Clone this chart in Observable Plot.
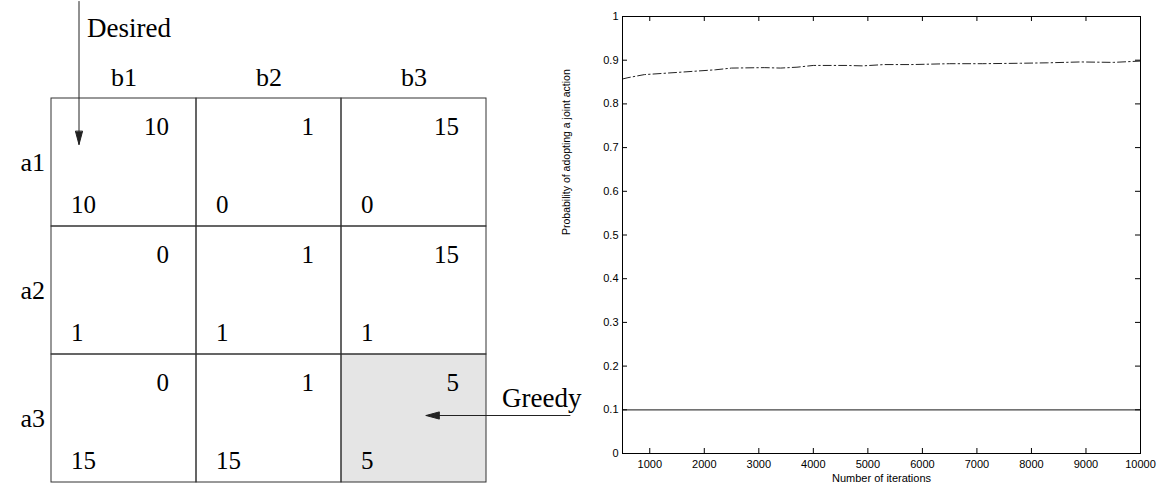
<!DOCTYPE html>
<html>
<head>
<meta charset="utf-8">
<script src="https://cdn.jsdelivr.net/npm/d3@7"></script>
<script src="https://cdn.jsdelivr.net/npm/@observablehq/plot@0.6"></script>
<style>
  body { margin: 0; background: #fff; }
  #wrap { position: relative; width: 1162px; height: 483px; overflow: hidden; background: #fff; }
  #wrap > div { position: absolute; top: 0; }
  #wrap svg { background: transparent !important; max-width: none !important; display: block; }
</style>
</head>
<body>
<div id="wrap"><div id="left" style="left:0px"></div><div id="right" style="left:555px"></div></div>
<script>
// ---------- Payoff matrix data ----------
const rowActions = ["a1", "a2", "a3"];
const colActions = ["b1", "b2", "b3"];
// payoff of the row player (shown bottom-left of each cell)
const rowPayoff = [
  [10, 0, 0],
  [1, 1, 1],
  [15, 15, 5]
];
// payoff of the column player (shown top-right of each cell)
const colPayoff = [
  [10, 1, 15],
  [0, 1, 15],
  [0, 1, 5]
];
const desiredCell = {row: "a1", col: "b1", label: "Desired"};
const greedyCell = {row: "a3", col: "b3", label: "Greedy"};

// ---------- Line chart data ----------
const iterations = [500, 600, 900, 1500, 2200, 2500, 3100, 3400, 3700, 4000, 4600, 4900, 5300, 5800, 6500, 7100, 7800, 8300, 8900, 9500, 10000];
const desiredProb = [0.857, 0.860, 0.867, 0.872, 0.878, 0.882, 0.883, 0.882, 0.884, 0.888, 0.888, 0.887, 0.890, 0.890, 0.892, 0.892, 0.893, 0.894, 0.896, 0.895, 0.898];
const greedyProb  = [0.1, 0.1, 0.1, 0.1, 0.1, 0.1, 0.1, 0.1, 0.1, 0.1, 0.1, 0.1, 0.1, 0.1, 0.1, 0.1, 0.1, 0.1, 0.1, 0.1, 0.1];
const xTicks = [1000, 2000, 3000, 4000, 5000, 6000, 7000, 8000, 9000, 10000];
const yTicks = [0, 0.1, 0.2, 0.3, 0.4, 0.5, 0.6, 0.7, 0.8, 0.9, 1];
const xDomain = [500, 10000];
const yDomain = [0, 1];
const xTitle = "Number of iterations";
const yTitle = "Probability of adopting a joint action";

// ---------- derived tables ----------
const cells = rowActions.flatMap((a, i) => colActions.map((b, j) => ({
  row: a, col: b, r: rowPayoff[i][j], c: colPayoff[i][j],
  greedy: a === greedyCell.row && b === greedyCell.col
})));
const series = iterations.map((t, i) => ({t, desired: desiredProb[i], greedy: greedyProb[i]}));

const serif = "'Liberation Serif','Times New Roman',Times,serif";
const sans = "'Liberation Sans',Arial,Helvetica,sans-serif";

// arrow with a narrow filled head
const arrowShape = {
  draw(ctx, l, r) {
    ctx.moveTo(0, 0);
    ctx.lineTo(0, -l);
    ctx.moveTo(-r, -l + 13);
    ctx.lineTo(0, -l);
    ctx.lineTo(r, -l + 13);
    ctx.closePath();
  }
};

// ---------- Left: payoff matrix ----------
const left = Plot.plot({
  width: 600,
  height: 483,
  marginLeft: 50,
  marginRight: 113,
  marginTop: 97,
  marginBottom: 1,
  x: {domain: colActions, padding: 0, axis: null},
  y: {domain: rowActions, padding: 0, axis: null},
  marks: [
    Plot.cell(cells.filter(d => d.greedy), {x: "col", y: "row", fill: "#e5e5e5", inset: 0}),
    Plot.cell(cells, {x: "col", y: "row", fill: "none", stroke: "#333", strokeWidth: 1, inset: 0}),
    Plot.text(cells, {x: "col", y: "row", text: d => String(d.c), textAnchor: "end", lineAnchor: "middle", dx: 45, dy: -36, fontSize: 25, fontFamily: serif, fill: "black"}),
    Plot.text(cells, {x: "col", y: "row", text: d => String(d.r), textAnchor: "start", lineAnchor: "middle", dx: -53, dy: 42, fontSize: 25, fontFamily: serif, fill: "black"}),
    Plot.text(colActions, {x: d => d, frameAnchor: "top", lineAnchor: "middle", dy: -20, fontSize: 26, fontFamily: serif, fill: "black"}),
    Plot.text(rowActions, {y: d => d, frameAnchor: "left", lineAnchor: "middle", dx: -30, fontSize: 26, fontFamily: serif, fill: "black"}),
    Plot.vector([desiredCell], {x: "col", y: "row", length: 143, rotate: 180, anchor: "end", shape: arrowShape, r: 3.5, dx: -45, dy: -18, stroke: "#222", fill: "#222", strokeWidth: 1}),
    Plot.text([desiredCell], {x: "col", y: "row", text: "label", textAnchor: "start", lineAnchor: "middle", dx: -37, dy: -134, fontSize: 27, fontFamily: serif, fill: "black"}),
    Plot.vector([greedyCell], {x: "col", y: "row", length: 144, rotate: -90, anchor: "end", shape: arrowShape, r: 3.5, dx: 12, dy: -3, stroke: "#222", fill: "#222", strokeWidth: 1}),
    Plot.text([greedyCell], {x: "col", y: "row", text: "label", textAnchor: "start", lineAnchor: "middle", dx: 88, dy: -20, fontSize: 27, fontFamily: serif, fill: "black"})
  ]
});
document.getElementById("left").appendChild(left);

// ---------- Right: probability chart ----------
const W = 607, H = 483, mL = 67, mR = 22, mT = 16, mB = 30;
const frameW = W - mL - mR, frameH = H - mT - mB, tick = 5;
const right = Plot.plot({
  width: W,
  height: H,
  marginLeft: mL,
  marginRight: mR,
  marginTop: mT,
  marginBottom: mB,
  x: {domain: xDomain, axis: null},
  y: {domain: yDomain, axis: null},
  marks: [
    Plot.line(series, {x: "t", y: "greedy", stroke: "#444", strokeWidth: 1.3}),
    Plot.line(series, {x: "t", y: "desired", stroke: "#222", strokeWidth: 1, strokeDasharray: "8,3,1.5,3"}),
    Plot.ruleX(xTicks, {x: d => d, insetBottom: frameH - tick, stroke: "black"}),
    Plot.ruleX(xTicks, {x: d => d, insetTop: frameH - tick, stroke: "black"}),
    Plot.ruleY(yTicks, {y: d => d, insetRight: frameW - tick, stroke: "black"}),
    Plot.ruleY(yTicks, {y: d => d, insetLeft: frameW - tick, stroke: "black"}),
    Plot.frame({stroke: "black", strokeWidth: 1}),
    Plot.text(xTicks, {x: d => d, text: d => String(d), frameAnchor: "bottom", lineAnchor: "middle", dy: 11, fontSize: 11, fontFamily: sans, fill: "black"}),
    Plot.text(yTicks, {y: d => d, text: d => d3.format("~g")(d), frameAnchor: "left", textAnchor: "end", lineAnchor: "middle", dx: -4, fontSize: 11, fontFamily: sans, fill: "black"}),
    Plot.text([xTitle], {frameAnchor: "bottom", lineAnchor: "middle", dy: 25, fontSize: 11, fontFamily: sans, fill: "black"}),
    Plot.text([yTitle], {frameAnchor: "left", lineAnchor: "middle", rotate: -90, dx: -56, fontSize: 10.5, fontFamily: sans, fill: "black"})
  ]
});
document.getElementById("right").appendChild(right);
</script>
</body>
</html>
